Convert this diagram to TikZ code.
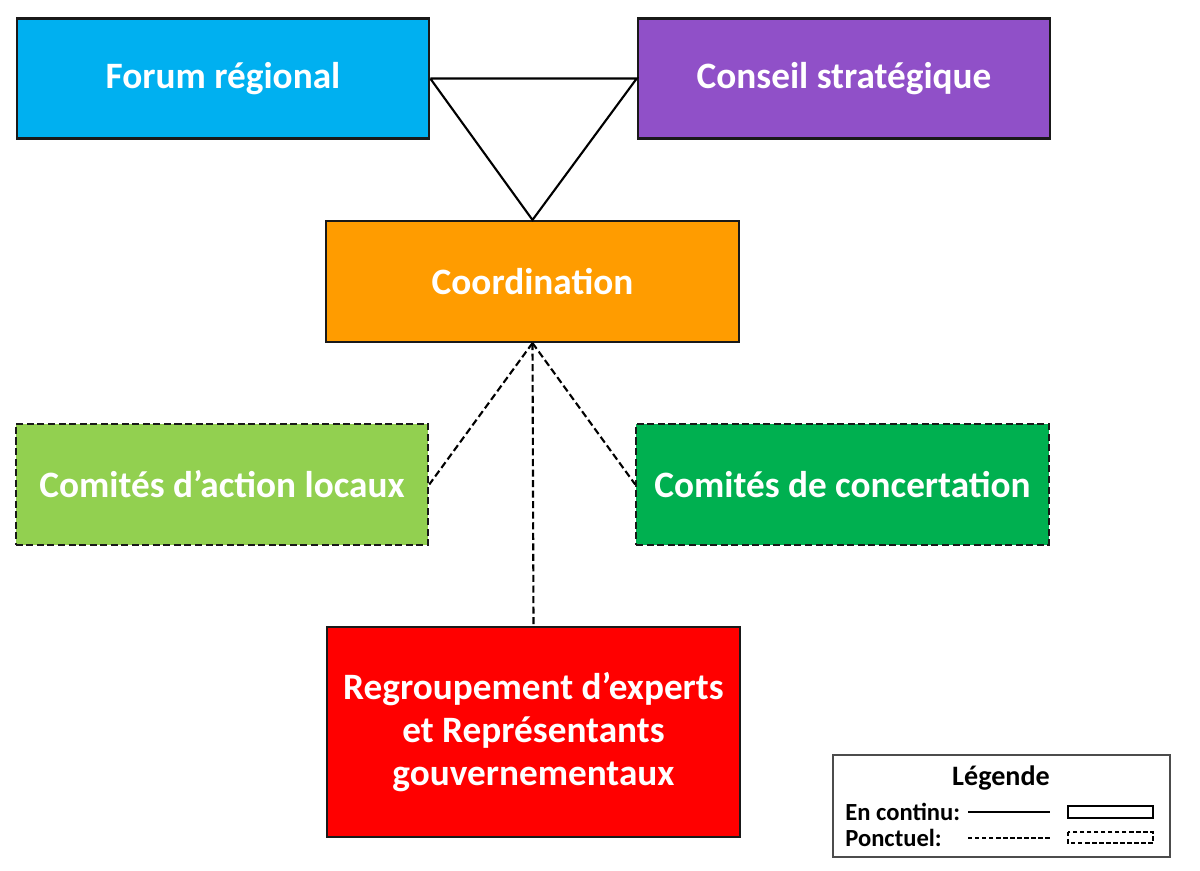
\documentclass[tikz,border=0pt]{standalone}
\usepackage{fontspec}
\setmainfont{Carlito}
\usepackage{tikz}
\usetikzlibrary{positioning}
\definecolor{forumblue}{HTML}{00B0F0}
\definecolor{conseilpurple}{HTML}{9050C8}
\definecolor{coordorange}{HTML}{FF9C00}
\definecolor{localgreen}{HTML}{92D050}
\definecolor{concertgreen}{HTML}{00B050}
\definecolor{expertred}{HTML}{FF0000}
\tikzset{
  box/.style={draw=black!90,line width=1.2pt,minimum width=8.25cm,minimum height=2.4cm,
    text=white,align=center,font=\fontsize{21.2}{24.6}\selectfont\bfseries},
  ponctuel/.style={dash pattern=on 4pt off 2pt},
  link/.style={line width=1.2pt},
  leg/.style={font=\fontsize{14}{16}\selectfont\bfseries,anchor=west,inner sep=0pt}
}
\begin{document}
\begin{tikzpicture}[x=0.02cm,y=-0.02cm]
  \useasboundingbox (0,0) rectangle (1200,871);
  \node[box,fill=forumblue] (forum) at (223,78.5) {Forum régional};
  \node[box,fill=conseilpurple] (conseil) at (844,78.5) {Conseil stratégique};
  \node[box,fill=coordorange,minimum height=2.42cm] (coord) at (532.5,281.5) {Coordination};
  \node[box,ponctuel,fill=localgreen,minimum height=2.42cm] (locaux) at (222,484.5) {Comités d’action locaux};
  \node[box,ponctuel,fill=concertgreen,minimum height=2.42cm] (concert) at (842.5,484.5) {Comités de concertation};
  \node[box,fill=expertred,minimum height=4.2cm] (experts) at (533.5,732)
    {Regroupement d’experts\\et Représentants\\gouvernementaux};
  % liens en continu
  \draw[link] (forum.east) -- (conseil.west) -- (coord.north) -- (forum.east);
  % liens ponctuels
  \draw[link,ponctuel] (coord.south) -- (locaux.east);
  \draw[link,ponctuel] (coord.south) -- (concert.west);
  \draw[link,ponctuel] (coord.south) -- (experts.north);
  % legende
  \draw[draw=black!70,line width=0.8pt] (833,755) rectangle (1170,857);
  \node[font=\fontsize{16}{18}\selectfont\bfseries] (legtitle) at (1001,778) {Légende};
  \node[leg] (continu) at (845,812) {En continu:};
  \node[leg] (ponct) at (845,838) {Ponctuel:};
  \draw[line width=0.9pt] (968,812) -- (1050,812);
  \draw[line width=0.9pt] (1068,806) rectangle (1153,818);
  \draw[line width=0.9pt,dash pattern=on 2.5pt off 1.5pt] (968,838) -- (1050,838);
  \draw[line width=0.9pt,dash pattern=on 2.5pt off 1.5pt] (1068,832) rectangle (1153,843);
\end{tikzpicture}
\end{document}
